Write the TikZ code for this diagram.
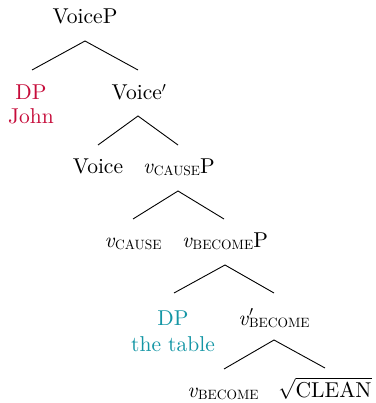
\documentclass[tikz,border=0pt]{standalone}
\usepackage{amsmath}
\usepackage{fontspec}
\setmainfont{lmroman10-regular}[Extension=.otf,ItalicFont=lmroman10-italic]
\definecolor{dpred}{RGB}{198,12,58}
\definecolor{dpteal}{RGB}{20,150,165}
\newcommand\subsc[1]{\raisebox{-2pt}{\fontsize{13.5}{15}\selectfont #1}}
\begin{document}
\begin{tikzpicture}[x=1pt,y=-1pt,
  lab/.style={anchor=base,inner sep=0pt,font=\fontsize{21.5}{26}\selectfont},
  branch/.style={line width=0.9pt}]
\useasboundingbox (0,0) rectangle (375,403);
% nodes
\node[lab] (VoiceP) at (85,24) {VoiceP};
\node[lab,text=dpred] (DP1) at (31,100) {DP};
\node[lab,text=dpred] (John) at (31,124) {John};
\node[lab] (Voicebar) at (139,100) {Voice$'$};
\node[lab] (Voice) at (98,173) {Voice};
\node[lab] (vCauseP) at (179,173) {\textit{v}\subsc{CAUSE}P};
\node[lab] (vCause) at (133,247) {\textit{v}\subsc{CAUSE}};
\node[lab] (vBecomeP) at (225,247) {\textit{v}\subsc{BECOME}P};
\node[lab,text=dpteal] (DP2) at (173,325) {DP};
\node[lab,text=dpteal] (table) at (173,351) {the table};
\node[lab] (vBecomeBar) at (274,325) {\textit{v}\rlap{\raisebox{1pt}{$'$}}\subsc{BECOME}};
\node[lab] (vBecome) at (223,397) {\textit{v}\subsc{BECOME}};
\node[lab] (Clean) at (325,397) {$\sqrt{\mbox{CLEAN}}$};
% branch points
\coordinate (a1) at (85,41);  \coordinate (l1) at (32,70);  \coordinate (r1) at (138,70);
\coordinate (a2) at (138,116); \coordinate (l2) at (98,145); \coordinate (r2) at (178,145);
\coordinate (a3) at (178,191); \coordinate (l3) at (133,219); \coordinate (r3) at (224,219);
\coordinate (a4) at (225,265); \coordinate (l4) at (174,293); \coordinate (r4) at (274,293);
\coordinate (a5) at (274,340); \coordinate (l5) at (224,369); \coordinate (r5) at (325,368);
\draw[branch] (l1) -- (a1) -- (r1);
\draw[branch] (l2) -- (a2) -- (r2);
\draw[branch] (l3) -- (a3) -- (r3);
\draw[branch] (l4) -- (a4) -- (r4);
\draw[branch] (l5) -- (a5) -- (r5);
\end{tikzpicture}
\end{document}
